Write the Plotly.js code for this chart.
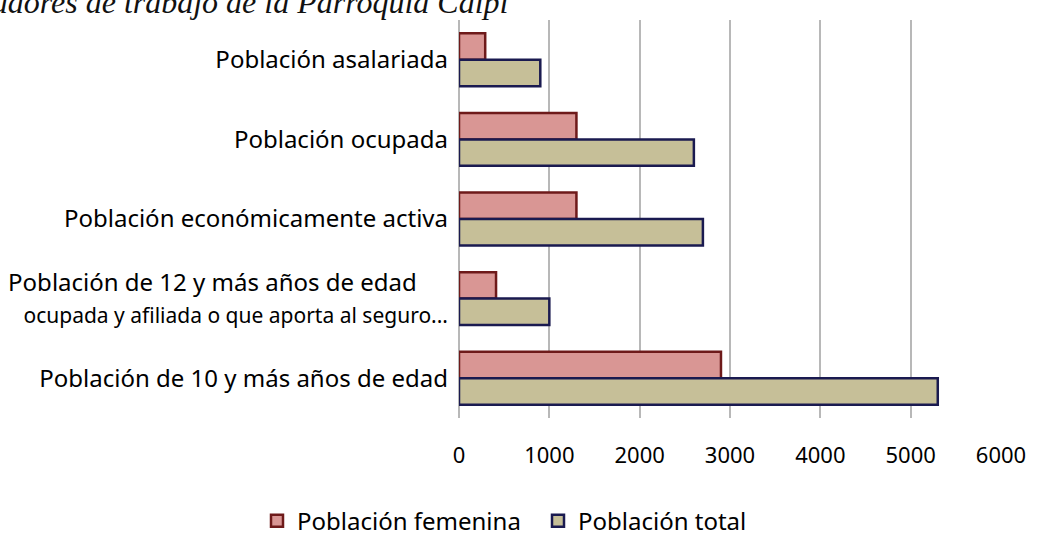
<!DOCTYPE html>
<html>
<head>
<meta charset="utf-8">
<script src="https://cdn.plot.ly/plotly-3.0.1.min.js"></script>
<style>
html,body{margin:0;padding:0;background:#fff;}
#chart{width:1046px;height:554px;}
</style>
</head>
<body>
<div id="chart"></div>
<script>
// Categories, top to bottom as shown
const categories = [
  "Población asalariada",
  "Población ocupada",
  "Población económicamente activa",
  "Población de 12 y más años de edad\u00a0\u00a0\u00a0\u00a0\u00a0<br><span style=\"font-size:21px\">ocupada y afiliada o que aporta al seguro...</span>",
  "Población de 10 y más años de edad"
];
const poblacionFemenina = [290, 1300, 1300, 410, 2900];
const poblacionTotal    = [900, 2600, 2700, 1000, 5300];
const seriesNames = ["Población femenina", "Población total"];
const xTickVals = [0, 1000, 2000, 3000, 4000, 5000, 6000];
const titleText = "Indicadores de trabajo de la Parroquia Calpi";

const traces = [
  {
    type: "bar", orientation: "h", name: seriesNames[0],
    y: categories, x: poblacionFemenina,
    marker: {color: "#d99694", line: {color: "#6e1a1a", width: 2.5}},
    hoverinfo: "x+name"
  },
  {
    type: "bar", orientation: "h", name: seriesNames[1],
    y: categories, x: poblacionTotal,
    marker: {color: "#c6bf98", line: {color: "#1a1a50", width: 2.5}},
    hoverinfo: "x+name"
  }
];

const layout = {
  width: 1046, height: 554,
  margin: {l: 459, r: 45, t: 20, b: 135},
  paper_bgcolor: "#ffffff", plot_bgcolor: "#ffffff",
  barmode: "group", bargap: 0.335, bargroupgap: 0,
  font: {family: "Noto Sans, sans-serif", color: "#000000"},
  xaxis: {
    range: [0, 6000], tickvals: xTickVals, ticktext: xTickVals.map(String),
    showgrid: true, gridcolor: "#b8b8b8", gridwidth: 1.8,
    zeroline: true, zerolinecolor: "#b8b8b8", zerolinewidth: 1.8,
    showline: false, ticks: "", ticklabelstandoff: 22,
    tickfont: {size: 22, color: "#000000"}, fixedrange: true
  },
  yaxis: {
    type: "category", autorange: "reversed",
    showgrid: false, zeroline: false, showline: false, ticks: "",
    ticklabelstandoff: 10,
    tickfont: {size: 24, color: "#000000"}, fixedrange: true
  },
  legend: {
    orientation: "h", x: (257 - 459) / 542, xanchor: "left", y: -0.256, yanchor: "middle",
    entrywidth: 236, entrywidthmode: "pixels",
    font: {size: 24, color: "#000000"}, bgcolor: "rgba(0,0,0,0)"
  },
  annotations: [{
    text: "<i>" + titleText + "</i>", xref: "paper", yref: "paper",
    x: (510 - 459) / 542, xanchor: "right", y: 1, yanchor: "middle", yshift: 18,
    showarrow: false,
    font: {family: "Liberation Serif, serif", size: 32, color: "#111111"}
  }],
  showlegend: true
};

Plotly.newPlot("chart", traces, layout, {displayModeBar: false, staticPlot: true});
</script>
</body>
</html>
